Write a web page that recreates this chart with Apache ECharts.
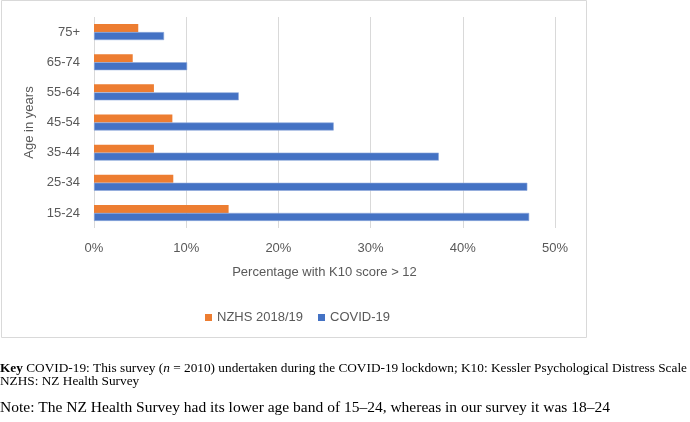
<!DOCTYPE html>
<html>
<head>
<meta charset="utf-8">
<script src="https://cdn.jsdelivr.net/npm/echarts@6/dist/echarts.min.js"></script>
<style>
  html, body { margin: 0; padding: 0; background: #fff; }
  #chart { width: 690px; height: 422px; }
</style>
</head>
<body>
<div id="chart"></div>
<script>
// age bands, bottom to top
const ageBands = ["15-24", "25-34", "35-44", "45-54", "55-64", "65-74", "75+"];
// percentage with K10 score > 12
const covidValues = [47.2, 47.0, 37.4, 26.0, 15.7, 10.1, 7.6];
const nzhsValues = [14.6, 8.6, 6.5, 8.5, 6.5, 4.2, 4.8];
const xTicks = [0, 10, 20, 30, 40, 50];

const myChart = echarts.init(document.getElementById("chart"), null, { renderer: "canvas" });

const textColor = "#595959";
const uiFont = "Liberation Sans";
const serif = "Liberation Serif";

let option = {
  animation: false,
  textStyle: { fontFamily: uiFont },
  grid: {
    left: 94,
    top: 17,
    width: 461,
    height: 211,
    containLabel: false,
  },
  legend: {
    data: ["NZHS 2018/19", "COVID-19"],
    left: 200,
    top: 306,
    itemWidth: 7,
    itemHeight: 7,
    itemGap: 15,
    icon: "rect",
    itemStyle: { borderWidth: 0 },
    textStyle: { color: textColor, fontSize: 13, fontFamily: uiFont },
  },
  xAxis: {
    type: "value",
    min: xTicks[0],
    max: xTicks[xTicks.length - 1],
    interval: 10,
    name: "Percentage with K10 score > 12",
    nameLocation: "middle",
    nameGap: 38,
    nameTextStyle: { color: textColor, fontSize: 13 },
    axisLine: { show: false },
    axisTick: { show: false },
    axisLabel: {
      color: textColor,
      fontSize: 13,
      margin: 14,
      formatter: (v) => v + "%",
    },
    splitLine: { lineStyle: { color: "#d9d9d9", width: 1 } },
  },
  yAxis: {
    type: "category",
    data: ageBands,
    name: "Age in years",
    nameLocation: "middle",
    nameRotate: 90,
    nameGap: 51,
    nameTextStyle: { color: textColor, fontSize: 13 },
    axisLine: { show: false },
    axisTick: { show: false },
    axisLabel: { color: textColor, fontSize: 13, margin: 14 },
  },
  series: [
    {
      name: "NZHS 2018/19",
      type: "bar",
      data: nzhsValues,
      barWidth: 8,
      barGap: "0%",
      itemStyle: { color: "#ED7D31" },
    },
    {
      name: "COVID-19",
      type: "bar",
      data: covidValues,
      barWidth: 8,
      barGap: "0%",
      itemStyle: { color: "#4472C4", borderColor: "#8FAADC", borderWidth: 0.6 },
    },
  ],
  graphic: [
    {
      type: "rect",
      shape: { x: 1.5, y: 0.5, width: 585, height: 337 },
      style: { fill: "none", stroke: "#d9d9d9", lineWidth: 1 },
      silent: true,
    },
    {
      type: "text",
      left: 0,
      top: 362,
      style: {
        text: "{b|Key} COVID-19: This survey ({i|n} = 2010) undertaken during the COVID-19 lockdown; K10: Kessler Psychological Distress Scale",
        fontFamily: serif,
        fontSize: 13.3,
        fill: "#000",
        rich: {
          b: { fontWeight: "bold", fontFamily: serif, fontSize: 13.3 },
          i: { fontStyle: "italic", fontFamily: serif, fontSize: 13.3 },
        },
      },
    },
    {
      type: "text",
      left: 0,
      top: 375,
      style: { text: "NZHS: NZ Health Survey", fontFamily: serif, fontSize: 13.3, fill: "#000" },
    },
    {
      type: "text",
      left: 0,
      top: 400,
      style: {
        text: "Note: The NZ Health Survey had its lower age band of 15\u201324, whereas in our survey it was 18\u201324",
        fontFamily: serif,
        fontSize: 15.5,
        fill: "#000",
      },
    },
  ],
};

option && myChart.setOption(option);
</script>
</body>
</html>
